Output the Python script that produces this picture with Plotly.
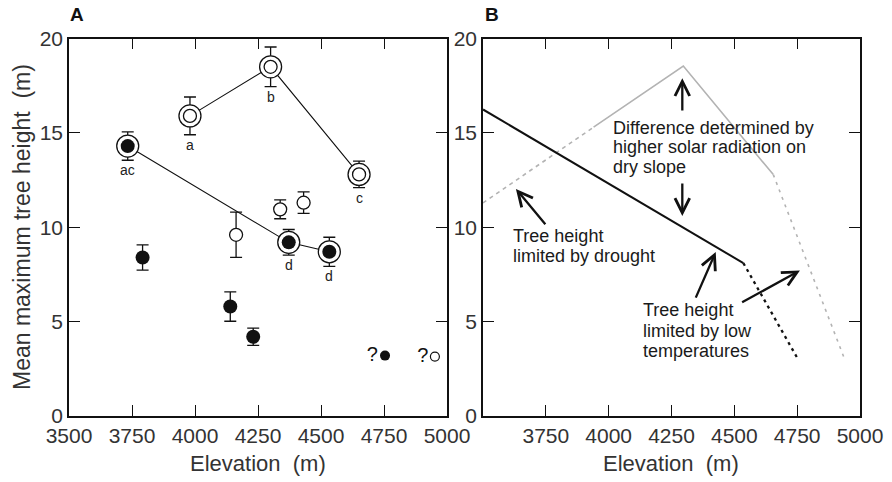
import plotly.graph_objects as go

# ---------------- Panel A data ----------------
upper_elev = [3980, 4300, 4651]
upper_height = [15.9, 18.5, 12.8]
upper_err = [1.0, 1.05, 0.7]
upper_labels = ["a", "b", "c"]

lower_elev = [3733, 4372, 4533]
lower_height = [14.3, 9.2, 8.7]
lower_err = [0.75, 0.68, 0.77]
lower_labels = ["ac", "d", "d"]

filled_elev = [3792, 4140, 4231]
filled_height = [8.4, 5.8, 4.2]
filled_err = [0.67, 0.78, 0.46]

open_elev = [4163, 4338, 4431]
open_height = [9.6, 10.95, 11.3]
open_err = [1.2, 0.5, 0.57]

unk_filled_elev = [4754]
unk_filled_height = [3.2]
unk_open_elev = [4952]
unk_open_height = [3.15]

x_ticks_a = [3500, 3750, 4000, 4250, 4500, 4750, 5000]
x_ticks_b = [3750, 4000, 4250, 4500, 4750, 5000]
y_ticks = [0, 5, 10, 15, 20]

# ---------------- Panel B data ----------------
dry_solid_elev = [3500, 4536]
dry_solid_height = [16.24, 8.1]
dry_dot_elev = [4536, 4755]
dry_dot_height = [8.1, 2.97]

wet_dash_elev = [3500, 3940]
wet_dash_height = [11.29, 15.3]
wet_solid_elev = [3940, 4297, 4655]
wet_solid_height = [15.3, 18.54, 12.79]
wet_dot_elev = [4655, 4940]
wet_dot_height = [12.79, 2.97]

# arrows: (tail_elev, tail_height, head_elev, head_height)
arrow_tail_elev = [4293, 4293, 3753, 4344, 4525]
arrow_tail_height = [16.1, 12.4, 10.08, 6.19, 5.98]
arrow_head_elev = [4293, 4293, 3631, 4426, 4761]
arrow_head_height = [17.9, 10.6, 12.03, 8.69, 7.71]

note_lines = [
    "Difference determined by", "higher solar radiation on", "dry slope",
    "Tree height", "limited by drought",
    "Tree height", "limited by low", "temperatures",
]
note_elev = [4008, 4008, 4008, 3610, 3610, 4127, 4127, 4127]
note_height = [15.27, 14.26, 13.2, 9.55, 8.49, 5.63, 4.53, 3.45]

FONT = "Liberation Sans, Arial, sans-serif"
BLACK = "#111111"
GRAY = "#b3b3b3"

fig = go.Figure()

# ---- Panel A ----
for ex, hy in [(upper_elev, upper_height), (lower_elev, lower_height)]:
    fig.add_trace(go.Scatter(x=ex, y=hy, mode="lines",
                             line=dict(color=BLACK, width=1.1),
                             xaxis="x", yaxis="y", showlegend=False, hoverinfo="skip"))

err_style = dict(type="data", color=BLACK, thickness=1.3, width=6)

# outer rings with error bars
for ex, hy, er in [(upper_elev, upper_height, upper_err), (lower_elev, lower_height, lower_err)]:
    fig.add_trace(go.Scatter(x=ex, y=hy, mode="markers",
                             error_y=dict(array=er, **err_style),
                             marker=dict(symbol="circle", size=22, color="white",
                                         line=dict(color=BLACK, width=1.3)),
                             xaxis="x", yaxis="y", showlegend=False))
# inner circles
fig.add_trace(go.Scatter(x=upper_elev, y=upper_height, mode="markers",
                         marker=dict(symbol="circle", size=13, color="white",
                                     line=dict(color=BLACK, width=1.3)),
                         xaxis="x", yaxis="y", showlegend=False))
fig.add_trace(go.Scatter(x=lower_elev, y=lower_height, mode="markers",
                         marker=dict(symbol="circle", size=14, color=BLACK,
                                     line=dict(color=BLACK, width=0)),
                         xaxis="x", yaxis="y", showlegend=False))
# single filled
fig.add_trace(go.Scatter(x=filled_elev, y=filled_height, mode="markers",
                         error_y=dict(array=filled_err, **err_style),
                         marker=dict(symbol="circle", size=14, color=BLACK,
                                     line=dict(width=0)),
                         xaxis="x", yaxis="y", showlegend=False))
# single open
fig.add_trace(go.Scatter(x=open_elev, y=open_height, mode="markers",
                         error_y=dict(array=open_err, **err_style),
                         marker=dict(symbol="circle", size=13, color="white",
                                     line=dict(color=BLACK, width=1.3)),
                         xaxis="x", yaxis="y", showlegend=False))
# unknown small points with "?"
fig.add_trace(go.Scatter(x=unk_filled_elev, y=unk_filled_height, mode="markers+text",
                         text=["?"], textposition="middle left",
                         textfont=dict(family=FONT, size=20, color=BLACK),
                         marker=dict(symbol="circle", size=10, color=BLACK, line=dict(width=0)),
                         xaxis="x", yaxis="y", showlegend=False))
fig.add_trace(go.Scatter(x=unk_open_elev, y=unk_open_height, mode="markers+text",
                         text=["?"], textposition="middle left",
                         textfont=dict(family=FONT, size=20, color=BLACK),
                         marker=dict(symbol="circle", size=9, color="white",
                                     line=dict(color=BLACK, width=1.2)),
                         xaxis="x", yaxis="y", showlegend=False))

annotations = []
for ex, hy, er, lab in [(upper_elev, upper_height, upper_err, upper_labels),
                        (lower_elev, lower_height, lower_err, lower_labels)]:
    for e, h, r, t in zip(ex, hy, er, lab):
        annotations.append(dict(x=e, y=h - r, xref="x", yref="y", text=t,
                                showarrow=False, yanchor="middle", yshift=-10,
                                font=dict(family=FONT, size=14, color="#222")))

# ---- Panel B ----
fig.add_trace(go.Scatter(x=wet_dash_elev, y=wet_dash_height, mode="lines",
                         line=dict(color=GRAY, width=1.6, dash="4px,4px"),
                         xaxis="x2", yaxis="y2", showlegend=False))
fig.add_trace(go.Scatter(x=wet_solid_elev, y=wet_solid_height, mode="lines",
                         line=dict(color=GRAY, width=1.6),
                         xaxis="x2", yaxis="y2", showlegend=False))
fig.add_trace(go.Scatter(x=wet_dot_elev, y=wet_dot_height, mode="lines",
                         line=dict(color=GRAY, width=1.6, dash="3px,5px"),
                         xaxis="x2", yaxis="y2", showlegend=False))
fig.add_trace(go.Scatter(x=dry_solid_elev, y=dry_solid_height, mode="lines",
                         line=dict(color=BLACK, width=2),
                         xaxis="x2", yaxis="y2", showlegend=False))
fig.add_trace(go.Scatter(x=dry_dot_elev, y=dry_dot_height, mode="lines",
                         line=dict(color=BLACK, width=2.3, dash="3px,4px"),
                         xaxis="x2", yaxis="y2", showlegend=False))

for te, th, he, hh in zip(arrow_tail_elev, arrow_tail_height, arrow_head_elev, arrow_head_height):
    annotations.append(dict(x=he, y=hh, ax=te, ay=th, xref="x2", yref="y2",
                            axref="x2", ayref="y2", text="", showarrow=True,
                            arrowhead=5, arrowsize=1.25, arrowwidth=2.3,
                            arrowcolor=BLACK, standoff=0, startstandoff=0))

for t, e, h in zip(note_lines, note_elev, note_height):
    annotations.append(dict(x=e, y=h, xref="x2", yref="y2", text=t, showarrow=False,
                            xanchor="left", yanchor="middle",
                            font=dict(family=FONT, size=18, color="#1a1a1a")))

# axis titles and panel labels
W, H = 892, 482
annotations += [
    dict(x=258 / W, y=(H - 463) / H, xref="paper", yref="paper", text="Elevation  (m)",
         showarrow=False, xanchor="center", yanchor="middle",
         font=dict(family=FONT, size=22, color="#333")),
    dict(x=671 / W, y=(H - 463) / H, xref="paper", yref="paper", text="Elevation  (m)",
         showarrow=False, xanchor="center", yanchor="middle",
         font=dict(family=FONT, size=22, color="#333")),
    dict(x=22 / W, y=(H - 227) / H, xref="paper", yref="paper",
         text="Mean maximum tree height  (m)", textangle=-90,
         showarrow=False, xanchor="center", yanchor="middle",
         font=dict(family=FONT, size=23, color="#333")),
    dict(x=68 / W, y=(H - 14) / H, xref="paper", yref="paper", text="<b>A</b>",
         showarrow=False, xanchor="left", yanchor="middle",
         font=dict(family=FONT, size=19, color=BLACK)),
    dict(x=483 / W, y=(H - 14) / H, xref="paper", yref="paper", text="<b>B</b>",
         showarrow=False, xanchor="left", yanchor="middle",
         font=dict(family=FONT, size=19, color=BLACK)),
]

axis_common = dict(showline=True, linecolor=BLACK, linewidth=1.5, mirror="ticks",
                   ticks="inside", ticklen=11, tickwidth=1.4, tickcolor=BLACK,
                   showgrid=False, zeroline=False, automargin=False,
                   tickfont=dict(family=FONT, size=21, color="#333"))

ydom = [(H - 416) / H, (H - 38.5) / H]
fig.update_layout(
    template="none",
    width=W, height=H,
    margin=dict(l=0, r=0, t=0, b=0, pad=0, autoexpand=False),
    paper_bgcolor="white", plot_bgcolor="white",
    xaxis=dict(domain=[69 / W, 447 / W], range=[3500, 5000], tickvals=x_ticks_a,
               anchor="y", **axis_common),
    yaxis=dict(domain=ydom, range=[0, 20], tickvals=y_ticks, anchor="x", **axis_common),
    xaxis2=dict(domain=[483 / W, 860 / W], range=[3500, 5000], tickvals=x_ticks_b,
                anchor="y2", **axis_common),
    yaxis2=dict(domain=ydom, range=[0, 20], tickvals=y_ticks, anchor="x2", **axis_common),
    annotations=annotations,
    showlegend=False,
)

fig.write_html("out.html", config={"displayModeBar": False},
               post_script="document.body.style.margin='0px';")
